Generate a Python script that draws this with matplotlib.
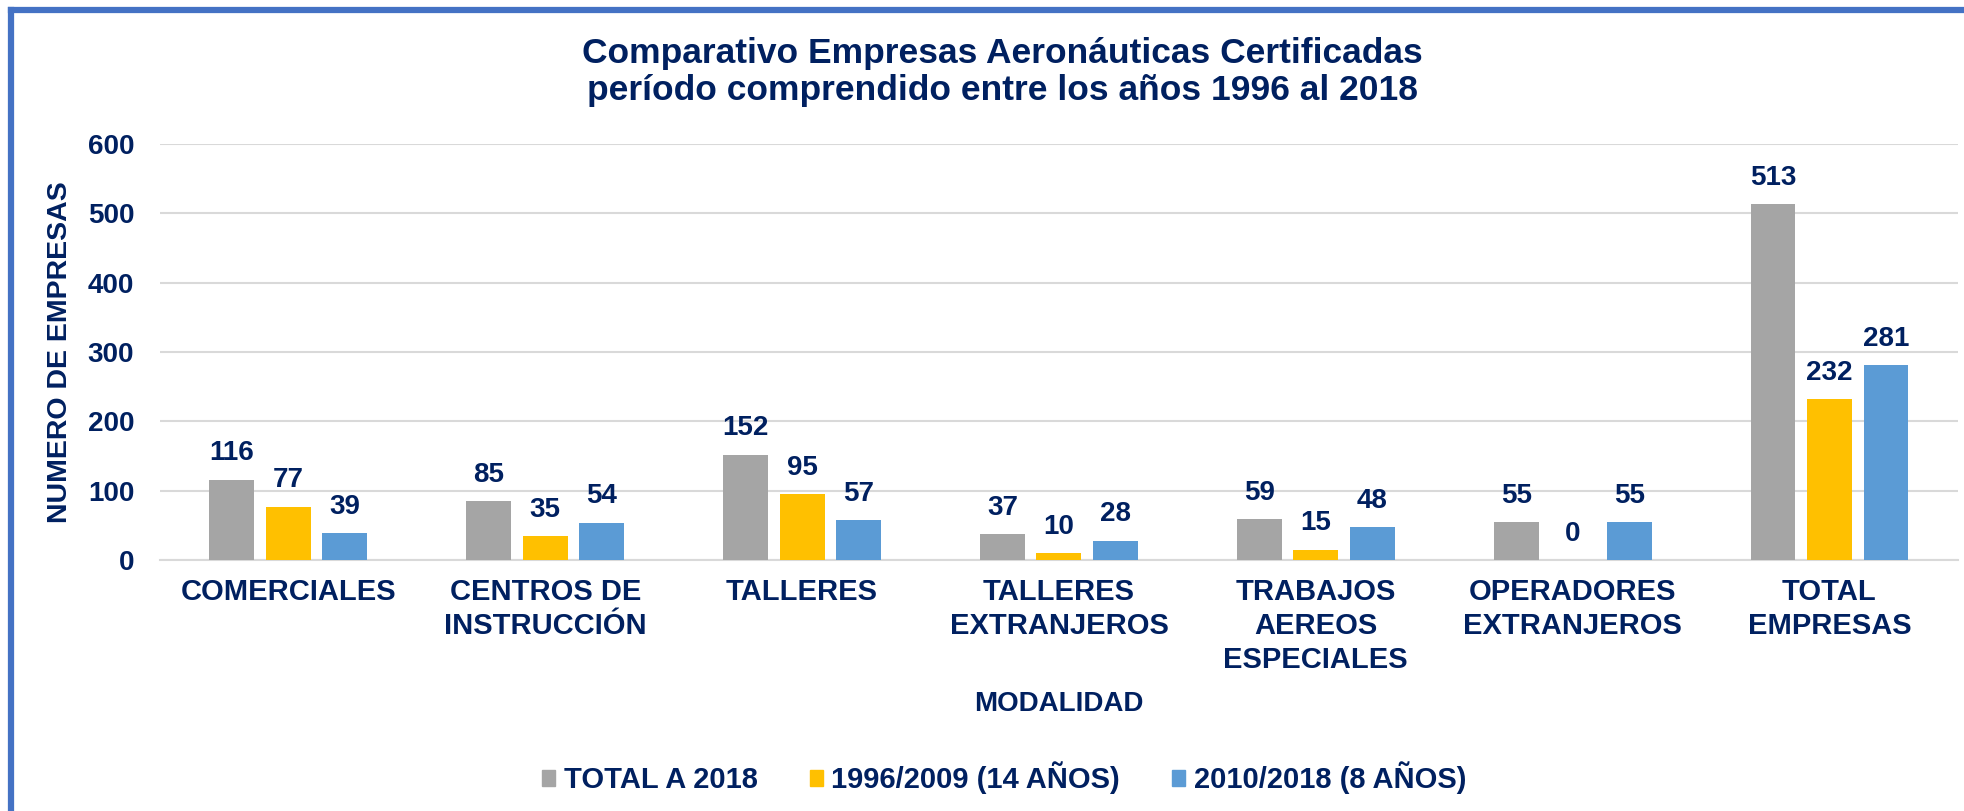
import numpy as np
import matplotlib.pyplot as plt
from matplotlib.lines import Line2D
from matplotlib.patches import Patch

categorias = ["COMERCIALES", "CENTROS DE\nINSTRUCCIÓN", "TALLERES", "TALLERES\nEXTRANJEROS",
              "TRABAJOS\nAEREOS\nESPECIALES", "OPERADORES\nEXTRANJEROS", "TOTAL\nEMPRESAS"]
total_2018 = [116, 85, 152, 37, 59, 55, 513]
periodo_1996_2009 = [77, 35, 95, 10, 15, 0, 232]
periodo_2010_2018 = [39, 54, 57, 28, 48, 55, 281]
series_nombres = ["TOTAL A 2018", "1996/2009 (14 AÑOS)", "2010/2018 (8 AÑOS)"]
colores = ["#A5A5A5", "#FFC000", "#5B9BD5"]

navy = "#002060"
plt.rcParams['font.family'] = ['Liberation Sans', 'DejaVu Sans']
plt.rcParams['font.weight'] = 'bold'

fig = plt.figure(figsize=(19.65, 8.11), dpi=100)
ax = fig.add_axes([0.0814, 0.3095, 0.915, 0.5129])

x = np.arange(len(categorias))
ancho = 0.175
paso = 0.22
for i, (vals, col, nom) in enumerate(zip([total_2018, periodo_1996_2009, periodo_2010_2018], colores, series_nombres)):
    barras = ax.bar(x + (i - 1) * paso, vals, ancho, color=col, label=nom, zorder=3)
    for b, v in zip(barras, vals):
        ax.annotate(str(v), (b.get_x() + b.get_width() / 2, v), xytext=(0, 9.5),
                    textcoords="offset points", ha="center", va="bottom",
                    fontsize=20, color=navy, fontweight="bold")

ax.set_xlim(-0.5, len(categorias) - 0.5)
ax.set_ylim(0, 600)
ax.set_yticks(range(0, 601, 100))
ax.yaxis.grid(True, color="#D9D9D9", linewidth=1.5, zorder=0)
ax.set_xticks(x)
ax.set_xticklabels(categorias, fontsize=21, color=navy, fontweight="bold", linespacing=1.28)
for t in ax.get_yticklabels():
    t.set_fontsize(20)
    t.set_color(navy)
    t.set_fontweight("bold")
ax.tick_params(axis="both", length=0)
ax.tick_params(axis="x", pad=13)
ax.tick_params(axis="y", pad=18.5)
for s in ["top", "right", "left"]:
    ax.spines[s].set_visible(False)
ax.spines["bottom"].set_color("#D9D9D9")
ax.spines["bottom"].set_linewidth(1.5)

ax.set_ylabel("NUMERO DE EMPRESAS", fontsize=20.5, color=navy, fontweight="bold")
ax.yaxis.set_label_coords(-0.0486, 0.5)

fig.text(0.51, 0.922, "Comparativo Empresas Aeronáuticas Certificadas",
         ha="center", va="baseline", fontsize=25.5, color=navy, fontweight="bold")
fig.text(0.51, 0.8767, "período comprendido entre los años 1996 al 2018",
         ha="center", va="baseline", fontsize=25.5, color=navy, fontweight="bold")
fig.text(0.539, 0.132, "MODALIDAD", ha="center", va="center", fontsize=20, color=navy, fontweight="bold")

handles = [Patch(color=c) for c in colores]
leg = fig.legend(handles, series_nombres, loc="center", bbox_to_anchor=(0.511, 0.0407), ncol=3,
                 frameon=False, fontsize=21, handlelength=0.46, handleheight=0.46,
                 handletextpad=0.285, columnspacing=1.78)
for t in leg.get_texts():
    t.set_color(navy)
    t.set_fontweight("bold")

# marco azul (izquierda y arriba)
fig.add_artist(Line2D([0.0056, 0.0056], [0, 0.988], transform=fig.transFigure, color="#4472C4", linewidth=4.5))
fig.add_artist(Line2D([0.0056, 1.0], [0.988, 0.988], transform=fig.transFigure, color="#4472C4", linewidth=4.5))

fig.savefig("out.png", dpi=100)
